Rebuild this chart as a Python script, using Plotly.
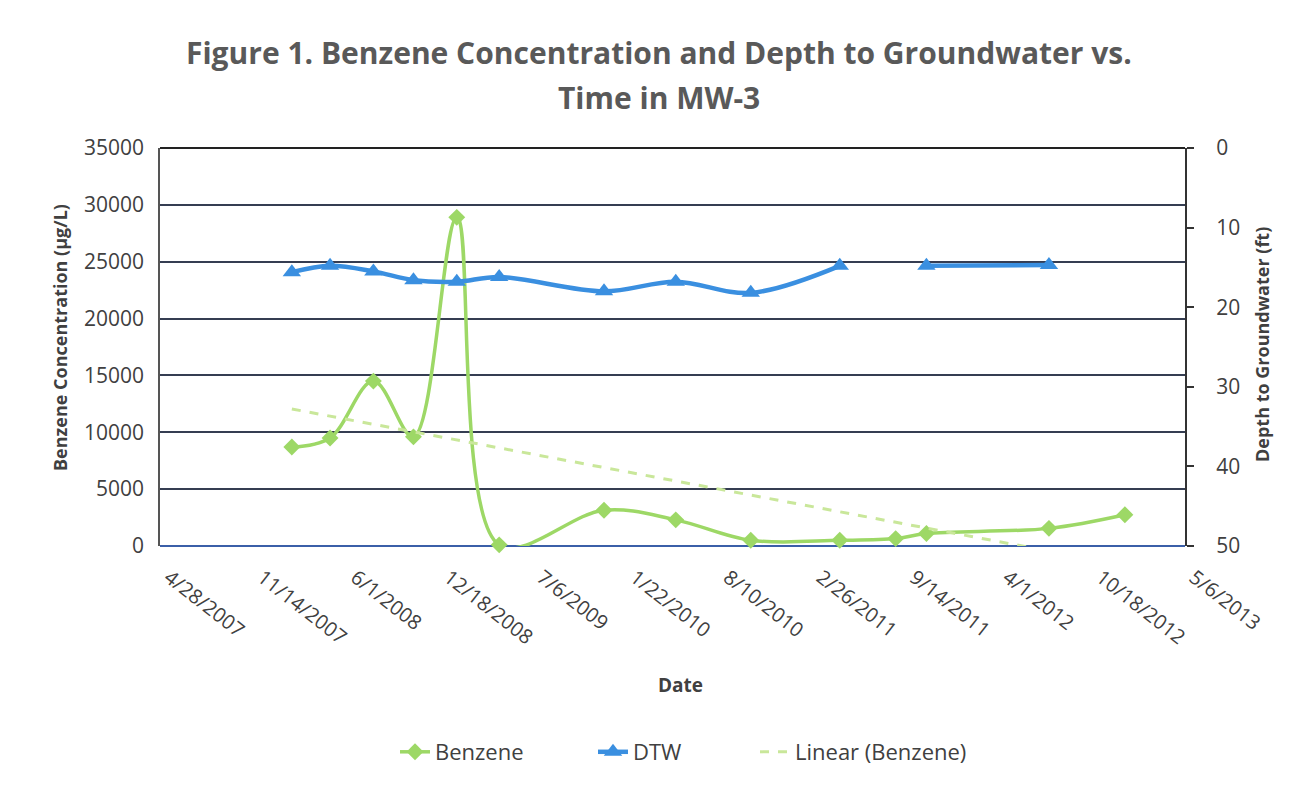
import numpy as np
import pandas as pd
import plotly.graph_objects as go

# ---- data ----
benzene_dates = ["2008-02-05", "2008-04-27", "2008-07-29", "2008-10-23", "2009-01-24",
                 "2009-04-25", "2009-12-06", "2010-05-09", "2010-10-17", "2011-04-26",
                 "2011-08-24", "2011-10-29", "2012-07-18", "2012-12-28"]
benzene_values = [8700, 9500, 14500, 9600, 28900, 100, 3150, 2300, 500, 500,
                  650, 1100, 1550, 2750]

dtw_dates = ["2008-02-05", "2008-04-27", "2008-07-29", "2008-10-23", "2009-01-24",
             "2009-04-25", "2009-12-06", "2010-05-09", "2010-10-17", "2011-04-26",
             "2011-08-24", "2011-10-29", "2012-07-18"]
dtw_values = [15.6, 14.8, 15.5, 16.6, 16.8, 16.2, 18.0, 16.8, 18.2, 14.8,
              None, 14.8, 14.7]

tick_dates = ["2007-04-28", "2007-11-14", "2008-06-01", "2008-12-18", "2009-07-06",
              "2010-01-22", "2010-08-10", "2011-02-26", "2011-09-14", "2012-04-01",
              "2012-10-18", "2013-05-06"]
tick_labels = ["4/28/2007", "11/14/2007", "6/1/2008", "12/18/2008", "7/6/2009",
               "1/22/2010", "8/10/2010", "2/26/2011", "9/14/2011", "4/1/2012",
               "10/18/2012", "5/6/2013"]

left_ticks = [0, 5000, 10000, 15000, 20000, 25000, 30000, 35000]
left_labels = ["0", "5000", "10000", "15000", "20000", "25000", "30000", "35000"]
right_ticks = [0, 10, 20, 30, 40, 50]

# ---- linear trendline of benzene (least squares, as Excel's "Linear") ----
bd = pd.to_datetime(benzene_dates)
days = (bd - bd[0]).days.values.astype(float)
slope, intercept = np.polyfit(days, np.array(benzene_values, dtype=float), 1)
trend_x = [benzene_dates[0], benzene_dates[-1]]
trend_y = [intercept, intercept + slope * days[-1]]

GREEN = "#9dd866"
BLUE = "#3a8fe0"
TREND = "#c9e79a"
GRID = "#353d52"
TXT = "#404040"
FONT = "Open Sans"

fig = go.Figure()
fig.add_trace(go.Scatter(
    x=benzene_dates, y=benzene_values, name="Benzene", mode="lines+markers",
    line=dict(color=GREEN, width=3.5, shape="spline", smoothing=1.0),
    marker=dict(symbol="diamond", size=13, color=GREEN),
    cliponaxis=False, yaxis="y", legend="legend"))
fig.add_trace(go.Scatter(
    x=dtw_dates, y=dtw_values, name="DTW", mode="lines+markers",
    line=dict(color=BLUE, width=4.5, shape="spline", smoothing=1.0),
    marker=dict(symbol="triangle-up", size=16, color=BLUE),
    connectgaps=False, yaxis="y2", legend="legend2"))
fig.add_trace(go.Scatter(
    x=trend_x, y=trend_y, name="Linear (Benzene)", mode="lines",
    line=dict(color=TREND, width=3, dash="dash"), yaxis="y", legend="legend3"))


def px_x(p):
    return (p - 160) / 1025


def px_y(p):
    return (546 - p) / 398


leg_common = dict(orientation="h", y=px_y(752), yanchor="middle", xanchor="left",
                  font=dict(family=FONT, size=22, color=TXT),
                  bgcolor="rgba(0,0,0,0)")

# page body has an 8px margin: plot area target is x 160..1185, y 148..546
fig.update_layout(
    width=1302, height=789,
    margin=dict(l=152, r=125, t=140, b=251),
    paper_bgcolor="white", plot_bgcolor="white",
    font=dict(family=FONT, color=TXT, size=20),
    showlegend=True,
    legend=dict(x=px_x(435 - 40), **leg_common),
    legend2=dict(x=px_x(633 - 40), **leg_common),
    legend3=dict(x=px_x(795 - 40), **leg_common),
    xaxis=dict(
        type="date", range=[tick_dates[0], tick_dates[-1]],
        tickmode="array", tickvals=tick_dates, ticktext=tick_labels,
        tickangle=38, tickfont=dict(family=FONT, size=20, color=TXT),
        ticklabelstandoff=15, ticklabelshift=9,
        showgrid=False, showline=False, zeroline=False, ticks=""),
    yaxis=dict(
        range=[0, 35000], tickmode="array", tickvals=left_ticks, ticktext=left_labels,
        tickfont=dict(family=FONT, size=21, color=TXT),
        showgrid=True, gridcolor=GRID, gridwidth=2, zeroline=False,
        showline=True, linecolor="#555555", linewidth=1.5, ticks="",
        ticklabelstandoff=10),
    yaxis2=dict(
        overlaying="y", side="right", range=[50, 0], tickmode="array",
        tickvals=right_ticks, tickfont=dict(family=FONT, size=21, color=TXT),
        showgrid=False, zeroline=False, showline=True, linecolor="#333333",
        linewidth=2, ticks="outside", ticklen=7, tickcolor="#333333", tickwidth=1.5,
        ticklabelstandoff=18),
)

ann = [
    dict(text="<b>Figure 1. Benzene Concentration and Depth to Groundwater vs.</b>",
         x=0.487, y=px_y(52), font=dict(size=30, color="#595959")),
    dict(text="<b>Time in MW-3</b>", x=0.487, y=px_y(97),
         font=dict(size=30, color="#595959")),
    dict(text="<b>Date</b>", x=px_x(680), y=px_y(685),
         font=dict(size=19, color=TXT)),
    dict(text="<b>Benzene Concentration (µg/L)</b>", x=px_x(60),
         y=px_y(338), textangle=-90, font=dict(size=18, color=TXT)),
    dict(text="<b>Depth to Groundwater (ft)</b>", x=px_x(1262),
         y=px_y(345), textangle=-90, font=dict(size=18, color=TXT)),
]
for a in ann:
    fig.add_annotation(xref="paper", yref="paper", showarrow=False,
                       xanchor="center", yanchor="middle",
                       font_family=FONT, **a)

# top border and blue-tinted bottom line of the plot area
fig.add_shape(type="line", xref="paper", yref="paper", x0=0, x1=1, y0=1, y1=1,
              line=dict(color="#222222", width=2))
fig.add_shape(type="line", xref="paper", yref="paper", x0=0, x1=1, y0=0, y1=0,
              line=dict(color="#3b5fa8", width=2), layer="below")

fig.write_html("out.html")
